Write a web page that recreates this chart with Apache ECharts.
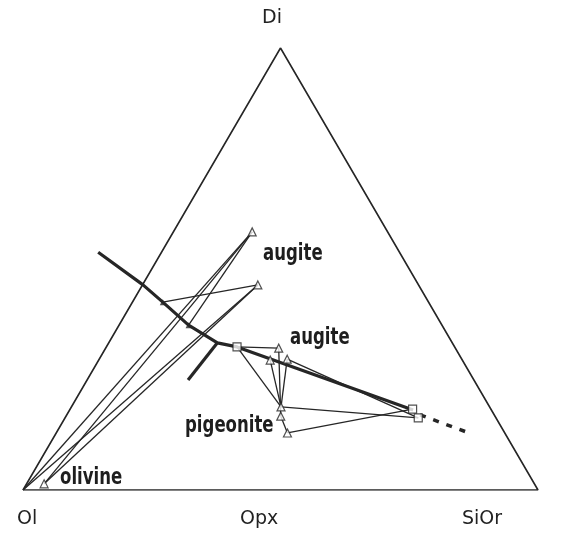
<!DOCTYPE html>
<html>
<head>
<meta charset="utf-8">
<script src="https://cdn.jsdelivr.net/npm/echarts@6/dist/echarts.min.js"></script>
<style>
html,body{margin:0;padding:0;background:#fff;}
#chart{width:563px;height:534px;}
</style>
</head>
<body>
<div id="chart"></div>
<script>
// Compositions are given as [Di, Ol, SiOr] in percent.
const vertices = { Ol: [0, 100, 0], SiOr: [0, 0, 100], Di: [100, 0, 0] };

const augite = [[58.4, 26.3, 15.3], [46.4, 31.2, 22.4], [32.1, 34.3, 33.6], [29.4, 37.3, 33.3], [29.6, 33.9, 36.5]];
const pigeonite = [[18.8, 40.5, 40.7], [16.7, 41.6, 41.7], [12.9, 42.2, 44.9]];
const olivine = [[1.4, 95.2, 3.4]];
const liquidSquares = [[32.4, 42.3, 25.4], [18.3, 15.2, 66.5], [16.3, 15.1, 68.6]];
const liquidTicks = [[42.5, 51.6, 5.9], [37.3, 49.2, 13.5]];

// cotectic boundary (heavy line) and its dashed extension
const boundary = [[53.8, 58.5, -12.3], [46.4, 53.5, 0.1], [42.5, 51.6, 5.9], [37.3, 49.2, 13.5],
                  [33.3, 45.6, 21.1], [32.4, 42.3, 25.4], [18.1, 15.2, 66.7]];
const boundaryDashed = [[17.0, 14.4, 68.6], [13.1, 7.3, 79.6]];
const reactionBranch = [[33.3, 45.6, 21.1], [24.9, 55.5, 19.6]];

// thin tie lines, each a pair of compositions
const tieLines = [
  [vertices.Ol, augite[0]], [olivine[0], augite[0]],
  [vertices.Ol, augite[1]], [olivine[0], augite[1]],
  [liquidTicks[0], augite[1]], [liquidTicks[1], augite[0]],
  [liquidSquares[0], augite[2]], [liquidSquares[0], pigeonite[0]],
  [augite[3], pigeonite[0]], [augite[4], pigeonite[0]], [augite[2], pigeonite[1]],
  [pigeonite[0], liquidSquares[2]], [pigeonite[2], liquidSquares[1]],
  [augite[4], liquidSquares[2]], [pigeonite[1], pigeonite[2]]
];

const H = Math.sqrt(3) / 2;
function toXY(c) {
  const s = c[0] + c[1] + c[2];
  const di = c[0] / s, si = c[2] / s;
  return [si + di / 2, di * H];
}

const ink = '#262626';
const series = [];

// triangle outline
series.push({
  type: 'line', data: [vertices.Ol, vertices.SiOr, vertices.Di, vertices.Ol].map(toXY),
  symbol: 'none', lineStyle: { color: ink, width: 1.6 }, z: 2, silent: true
});

tieLines.forEach(p => series.push({
  type: 'line', data: p.map(toXY), symbol: 'none',
  lineStyle: { color: ink, width: 1.3 }, z: 2, silent: true
}));

series.push({
  type: 'line', data: boundary.map(toXY), symbol: 'none',
  lineStyle: { color: ink, width: 3.2 }, z: 3, silent: true
});
series.push({
  type: 'line', data: reactionBranch.map(toXY), symbol: 'none',
  lineStyle: { color: ink, width: 3.2 }, z: 3, silent: true
});
series.push({
  type: 'line', data: boundaryDashed.map(toXY), symbol: 'none',
  lineStyle: { color: ink, width: 3.5, type: [6, 8] }, z: 3, silent: true
});

const markerStyle = { color: '#fff', borderColor: ink, borderWidth: 1.2 };
series.push({
  type: 'scatter', data: augite.concat(pigeonite, olivine).map(toXY),
  symbol: 'triangle', symbolSize: 8, itemStyle: markerStyle, z: 5, silent: true
});
series.push({
  type: 'scatter', data: liquidSquares.map(toXY),
  symbol: 'rect', symbolSize: 8, itemStyle: markerStyle, z: 5, silent: true
});
series.push({
  type: 'scatter', data: liquidTicks.map(toXY),
  symbol: 'triangle', symbolSize: 6, itemStyle: { color: ink }, z: 5, silent: true
});

const vertexFont = { fontFamily: 'DejaVu Sans', fontSize: 19, fill: '#222' };
const phaseFont = { fontFamily: 'DejaVu Sans', fontWeight: 'bold', fontSize: 23, fill: '#1e1e1e' };
// condensed lettering for the phase names
const phase = (text, left, top) => ({ type: 'text', left, top, scaleX: 0.72, style: Object.assign({ text }, phaseFont) });

const chart = echarts.init(document.getElementById('chart'), null, { renderer: 'canvas' });
chart.setOption({
  backgroundColor: '#fff',
  animation: false,
  grid: { left: 23, top: 48, width: 515, height: 442 },
  xAxis: { type: 'value', min: 0, max: 1, show: false },
  yAxis: { type: 'value', min: 0, max: H, show: false },
  series: series,
  graphic: [
    { type: 'text', left: 262, top: 9, style: Object.assign({ text: 'Di' }, vertexFont) },
    { type: 'text', left: 17, top: 510, style: Object.assign({ text: 'Ol' }, vertexFont) },
    { type: 'text', left: 240, top: 510, style: Object.assign({ text: 'Opx' }, vertexFont) },
    { type: 'text', left: 462, top: 510, style: Object.assign({ text: 'SiOr' }, vertexFont) },
    phase('augite', 263, 243),
    phase('augite', 290, 327),
    phase('pigeonite', 185, 415),
    phase('olivine', 60, 467)
  ]
});
</script>
</body>
</html>
